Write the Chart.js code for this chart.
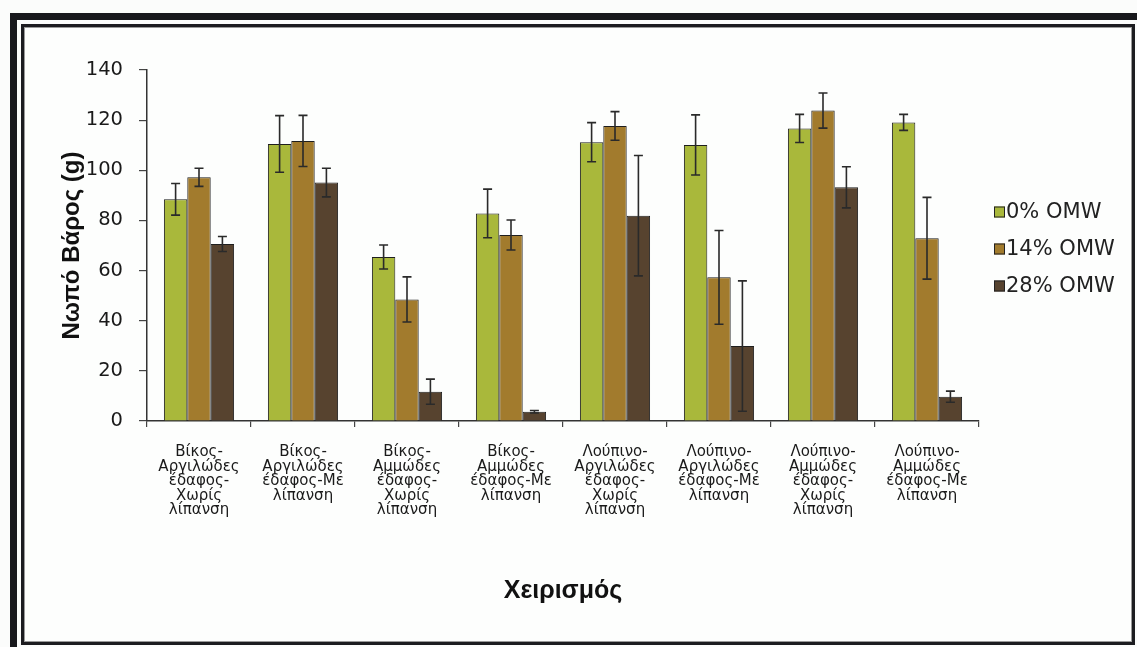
<!DOCTYPE html>
<html lang="el">
<head>
<meta charset="utf-8">
<title>Νωπό Βάρος ανά χειρισμό</title>
<script src="https://cdn.jsdelivr.net/npm/chart.js@4.4.1/dist/chart.umd.min.js"></script>
<style>
  html, body { margin: 0; padding: 0; background: #fbfcfb; }
  body { width: 1137px; height: 647px; position: relative; overflow: hidden; }
  .frame-outer {
    position: absolute; left: 10px; top: 13px; right: -10px; bottom: -10px;
    border-top: 7px solid #18181c; border-left: 7px solid #18181c;
  }
  .frame-inner {
    position: absolute; left: 21px; top: 24px; width: 1108px; height: 615px;
    border: 3px solid #1c1c20; box-shadow: inset 0 0 0 1px #9a9a9a;
    background: #fdfefd;
  }
  #wrap { position: absolute; left: 0; top: 0; width: 1137px; height: 647px; }
</style>
</head>
<body>
<div class="frame-outer"></div>
<div class="frame-inner"></div>
<div id="wrap"><canvas id="chart" width="1137" height="647"></canvas></div>
<script>
// Treatments (crop – soil – fertilisation)
const categories = [
  ["Βίκος-", "Αργιλώδες", "έδαφος-", "Χωρίς", "λίπανση"],
  ["Βίκος-", "Αργιλώδες", "έδαφος-Με", "λίπανση"],
  ["Βίκος-", "Αμμώδες", "έδαφος-", "Χωρίς", "λίπανση"],
  ["Βίκος-", "Αμμώδες", "έδαφος-Με", "λίπανση"],
  ["Λούπινο-", "Αργιλώδες", "έδαφος-", "Χωρίς", "λίπανση"],
  ["Λούπινο-", "Αργιλώδες", "έδαφος-Με", "λίπανση"],
  ["Λούπινο-", "Αμμώδες", "έδαφος-", "Χωρίς", "λίπανση"],
  ["Λούπινο-", "Αμμώδες", "έδαφος-Με", "λίπανση"]
];

const seriesNames = ["0% OMW", "14% OMW", "28% OMW"];

// Mean fresh weight (g)
const omw0  = [88.4, 110.5, 65.4, 82.8, 111.2, 110.1, 116.7, 119.1];
const omw14 = [97.2, 111.7, 48.5, 74.2, 117.7, 57.3, 123.8, 72.9];
const omw28 = [70.6, 95.1, 11.7, 3.7, 81.9, 29.9, 93.2, 9.7];

// Standard error (g)
const err0  = [6.3, 11.3, 4.8, 9.7, 7.8, 12.0, 5.6, 3.2];
const err14 = [3.6, 10.2, 9.0, 6.0, 5.7, 18.7, 7.0, 16.3];
const err28 = [3.0, 5.7, 5.0, 0.5, 24.0, 26.0, 8.2, 2.2];

const yTicks = [0, 20, 40, 60, 80, 100, 120, 140];

const colors = ["#a9b83b", "#a27b2d", "#57432f"];
const errors = [err0, err14, err28];

// Vertical error bars with caps, drawn over each bar
const errorBars = {
  id: "errorBars",
  afterDatasetsDraw(chart) {
    const ctx = chart.ctx;
    const y = chart.scales.y;
    ctx.save();
    ctx.strokeStyle = "#2a2a2a";
    ctx.lineWidth = 1.6;
    chart.data.datasets.forEach((ds, di) => {
      const meta = chart.getDatasetMeta(di);
      meta.data.forEach((bar, i) => {
        const v = ds.data[i];
        const e = errors[di][i];
        const yt = y.getPixelForValue(v + e);
        const yb = y.getPixelForValue(Math.max(0, v - e));
        const cap = 4.5;
        ctx.beginPath();
        ctx.moveTo(bar.x, yt); ctx.lineTo(bar.x, yb);
        ctx.moveTo(bar.x - cap, yt); ctx.lineTo(bar.x + cap, yt);
        ctx.moveTo(bar.x - cap, yb); ctx.lineTo(bar.x + cap, yb);
        ctx.stroke();
      });
    });
    ctx.restore();
  }
};

// Legend to the right of the plot
const sideLegend = {
  id: "sideLegend",
  afterDraw(chart) {
    const ctx = chart.ctx;
    ctx.save();
    ctx.font = "21px 'DejaVu Sans', sans-serif";
    ctx.textBaseline = "middle";
    seriesNames.forEach((name, i) => {
      const cy = 212 + i * 37;
      ctx.fillStyle = colors[i];
      ctx.fillRect(994, cy - 5.5, 11, 11);
      ctx.strokeStyle = "#222";
      ctx.lineWidth = 1;
      ctx.strokeRect(994.5, cy - 5, 10, 10);
      ctx.fillStyle = "#222";
      ctx.fillText(name, 1006, cy + 1);
    });
    ctx.restore();
  }
};

new Chart(document.getElementById("chart"), {
  type: "bar",
  data: {
    labels: categories,
    datasets: [
      { label: seriesNames[0], data: omw0,  backgroundColor: colors[0] },
      { label: seriesNames[1], data: omw14, backgroundColor: colors[1] },
      { label: seriesNames[2], data: omw28, backgroundColor: colors[2] }
    ].map(d => Object.assign(d, {
      borderColor: "#1e1e1e", borderWidth: 1,
      categoryPercentage: 0.675, barPercentage: 1.0
    }))
  },
  plugins: [errorBars, sideLegend],
  options: {
    responsive: false,
    animation: false,
    layout: { padding: { left: 55, right: 158, top: 70, bottom: 30 } },
    plugins: {
      legend: { display: false },
      tooltip: { enabled: false }
    },
    scales: {
      x: {
        afterFit(scale) { scale.height = 647 - 30 - 421; },
        grid: { offset: true, drawOnChartArea: false, tickLength: 6, color: "#444", lineWidth: 1.2 },
        border: { color: "#333", width: 1.5 },
        ticks: {
          autoSkip: false, maxRotation: 0, minRotation: 0, padding: 18,
          color: "#1a1a1a",
          font: { family: "'DejaVu Sans', sans-serif", size: 15, lineHeight: 0.97 }
        },
        title: {
          display: true, text: "Χειρισμός", color: "#111",
          font: { family: "'Liberation Sans', Arial, sans-serif", size: 25, weight: "bold" },
          padding: { top: 0, bottom: 11 }
        }
      },
      y: {
        min: 0, max: 140,
        afterFit(scale) { scale.width = 147 - 55; },
        afterBuildTicks(scale) { scale.ticks = yTicks.map(v => ({ value: v })); },
        grid: { drawOnChartArea: false, tickLength: 8, color: "#444", lineWidth: 1.2 },
        border: { color: "#333", width: 1.5 },
        ticks: {
          padding: 16, color: "#1a1a1a",
          font: { family: "'DejaVu Sans', sans-serif", size: 19.5 }
        },
        title: {
          display: true, text: "Νωπό Βάρος (g)", color: "#111",
          font: { family: "'Liberation Sans', Arial, sans-serif", size: 24, weight: "bold" },
          padding: { top: 3, bottom: 0 }
        }
      }
    }
  }
});
</script>
</body>
</html>
